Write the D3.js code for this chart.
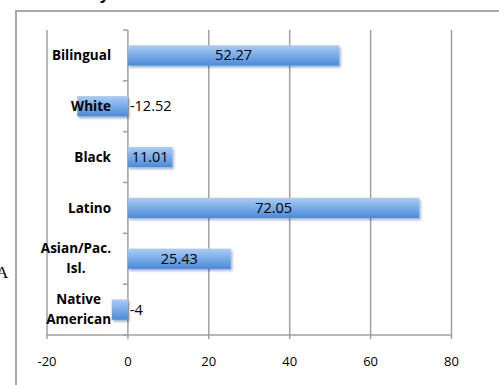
<!DOCTYPE html>
<html>
<head>
<meta charset="utf-8">
<script src="https://cdn.jsdelivr.net/npm/d3@7"></script>
<style>
	body { margin: 0; background: #fff; }
	text { font-family: "Open Sans", sans-serif; fill: #000; }
	.cat { font-weight: bold; font-size: 13.5px; }
	.tick { font-size: 13px; }
	.value { font-size: 14.5px; }
	.grid { stroke: #a0a0a0; stroke-width: 1.5; }
</style>
</head>
<body>
<div id="chart"></div>
<script>
	const categories = [ "Bilingual", "White", "Black", "Latino", "Asian/Pac. Isl.", "Native American" ];
	const labelLines = [ ["Bilingual"], ["White"], ["Black"], ["Latino"], ["Asian/Pac.", "Isl."], ["Native", "American"] ];
	const values = [ 52.27, -12.52, 11.01, 72.05, 25.43, -4 ];
	const xTicks = [ -20, 0, 20, 40, 60, 80 ];

	const width = 499;
	const height = 385;
	const plot = { left: 47, right: 451.5, top: 30, bottom: 335 };
	const labelRight = 111;
	const lineHeight = 20;

	const svg = d3.select("#chart")
					.append("svg")
						.attr("width", width)
						.attr("height", height);

	const defs = svg.append("defs");

	const grad = defs.append("linearGradient")
						.attr("id", "barFill")
						.attr("x1", 0).attr("y1", 0)
						.attr("x2", 0).attr("y2", 1);
	grad.append("stop").attr("offset", "0%").attr("stop-color", "#a9cdf8");
	grad.append("stop").attr("offset", "100%").attr("stop-color", "#4a8ad8");

	defs.append("filter")
			.attr("id", "shadow")
			.attr("x", "-10%").attr("y", "-30%")
			.attr("width", "130%").attr("height", "180%")
		.append("feDropShadow")
			.attr("dx", 1.5)
			.attr("dy", 2)
			.attr("stdDeviation", 1.3)
			.attr("flood-color", "#000")
			.attr("flood-opacity", 0.3);

	const x = d3.scaleLinear()
				.domain([ -20, 80 ])
				.range([ plot.left, plot.right ]);

	const y = d3.scaleBand()
				.domain(categories)
				.range([ plot.top, plot.bottom ])
				.paddingInner(0.6)
				.paddingOuter(0.3);

	// outer chart frame (only top and left edges visible)
	svg.append("path")
		.attr("d", `M16,${height}V11H${width}`)
		.attr("fill", "none")
		.attr("stroke", "#a8a8a8")
		.attr("stroke-width", 2);

	// cut-off title fragment and stray letter at the edges, as in the source
	svg.append("text")
		.attr("x", 100)
		.attr("y", -1)
		.style("font-weight", "bold")
		.style("font-size", "16px")
		.text("y");

	svg.append("text")
		.attr("x", -4)
		.attr("y", 278)
		.style("font-family", "'Liberation Serif', serif")
		.style("font-size", "17px")
		.text("A");

	// vertical gridlines with tick marks below the axis
	svg.append("g")
		.selectAll("line")
			.data(xTicks).enter()
		.append("line")
			.attr("class", "grid")
			.attr("x1", (d) => x(d))
			.attr("x2", (d) => x(d))
			.attr("y1", plot.top)
			.attr("y2", plot.bottom + 4);

	svg.append("line")
		.attr("class", "grid")
		.attr("x1", plot.left)
		.attr("x2", plot.right)
		.attr("y1", plot.bottom)
		.attr("y2", plot.bottom);

	// category boundary ticks on the zero axis
	const step = y.step();
	svg.append("g")
		.selectAll("line")
			.data(d3.range(categories.length + 1)).enter()
		.append("line")
			.attr("class", "grid")
			.attr("x1", x(0) - 5)
			.attr("x2", x(0))
			.attr("y1", (i) => plot.top + i * step)
			.attr("y2", (i) => plot.top + i * step);

	svg.append("g")
		.selectAll("text")
			.data(xTicks).enter()
		.append("text")
			.attr("class", "tick")
			.attr("x", (d) => x(d))
			.attr("y", 366)
			.attr("text-anchor", "middle")
			.text((d) => d);

	const rows = categories.map((c, i) => ({ category: c, value: values[i], lines: labelLines[i] }));

	svg.append("g")
		.selectAll("rect")
			.data(rows).enter()
		.append("rect")
			.attr("x", (d) => x(Math.min(0, d.value)))
			.attr("width", (d) => Math.abs(x(d.value) - x(0)))
			.attr("y", (d) => y(d.category))
			.attr("height", y.bandwidth())
			.attr("fill", "url(#barFill)")
			.attr("filter", "url(#shadow)");

	svg.append("g")
		.selectAll("text")
			.data(rows).enter()
		.append("text")
			.attr("class", "value")
			.attr("x", (d) => d.value < 0 ? x(0) + 2 : (x(0) + x(d.value)) / 2)
			.attr("y", (d) => y(d.category) + y.bandwidth() / 2)
			.attr("dy", "0.35em")
			.attr("text-anchor", (d) => d.value < 0 ? "start" : "middle")
			.text((d) => String(d.value));

	// category labels: wrapped lines centred on the widest line, block right-aligned
	const labels = svg.append("g")
						.selectAll("text")
							.data(rows).enter()
						.append("text")
							.attr("class", "cat")
							.attr("text-anchor", "middle");

	labels.each(function(d) {
		const t = d3.select(this);
		const mid = y(d.category) + y.bandwidth() / 2;
		const first = -(d.lines.length - 1) / 2 * lineHeight;
		d.lines.forEach((line, k) => {
			t.append("tspan")
				.attr("y", mid + first + k * lineHeight)
				.attr("dy", "0.35em")
				.text(line);
		});
		let maxW = 0;
		t.selectAll("tspan").each(function() {
			maxW = Math.max(maxW, this.getComputedTextLength());
		});
		t.selectAll("tspan").attr("x", labelRight - maxW / 2);
	});
</script>
</body>
</html>
